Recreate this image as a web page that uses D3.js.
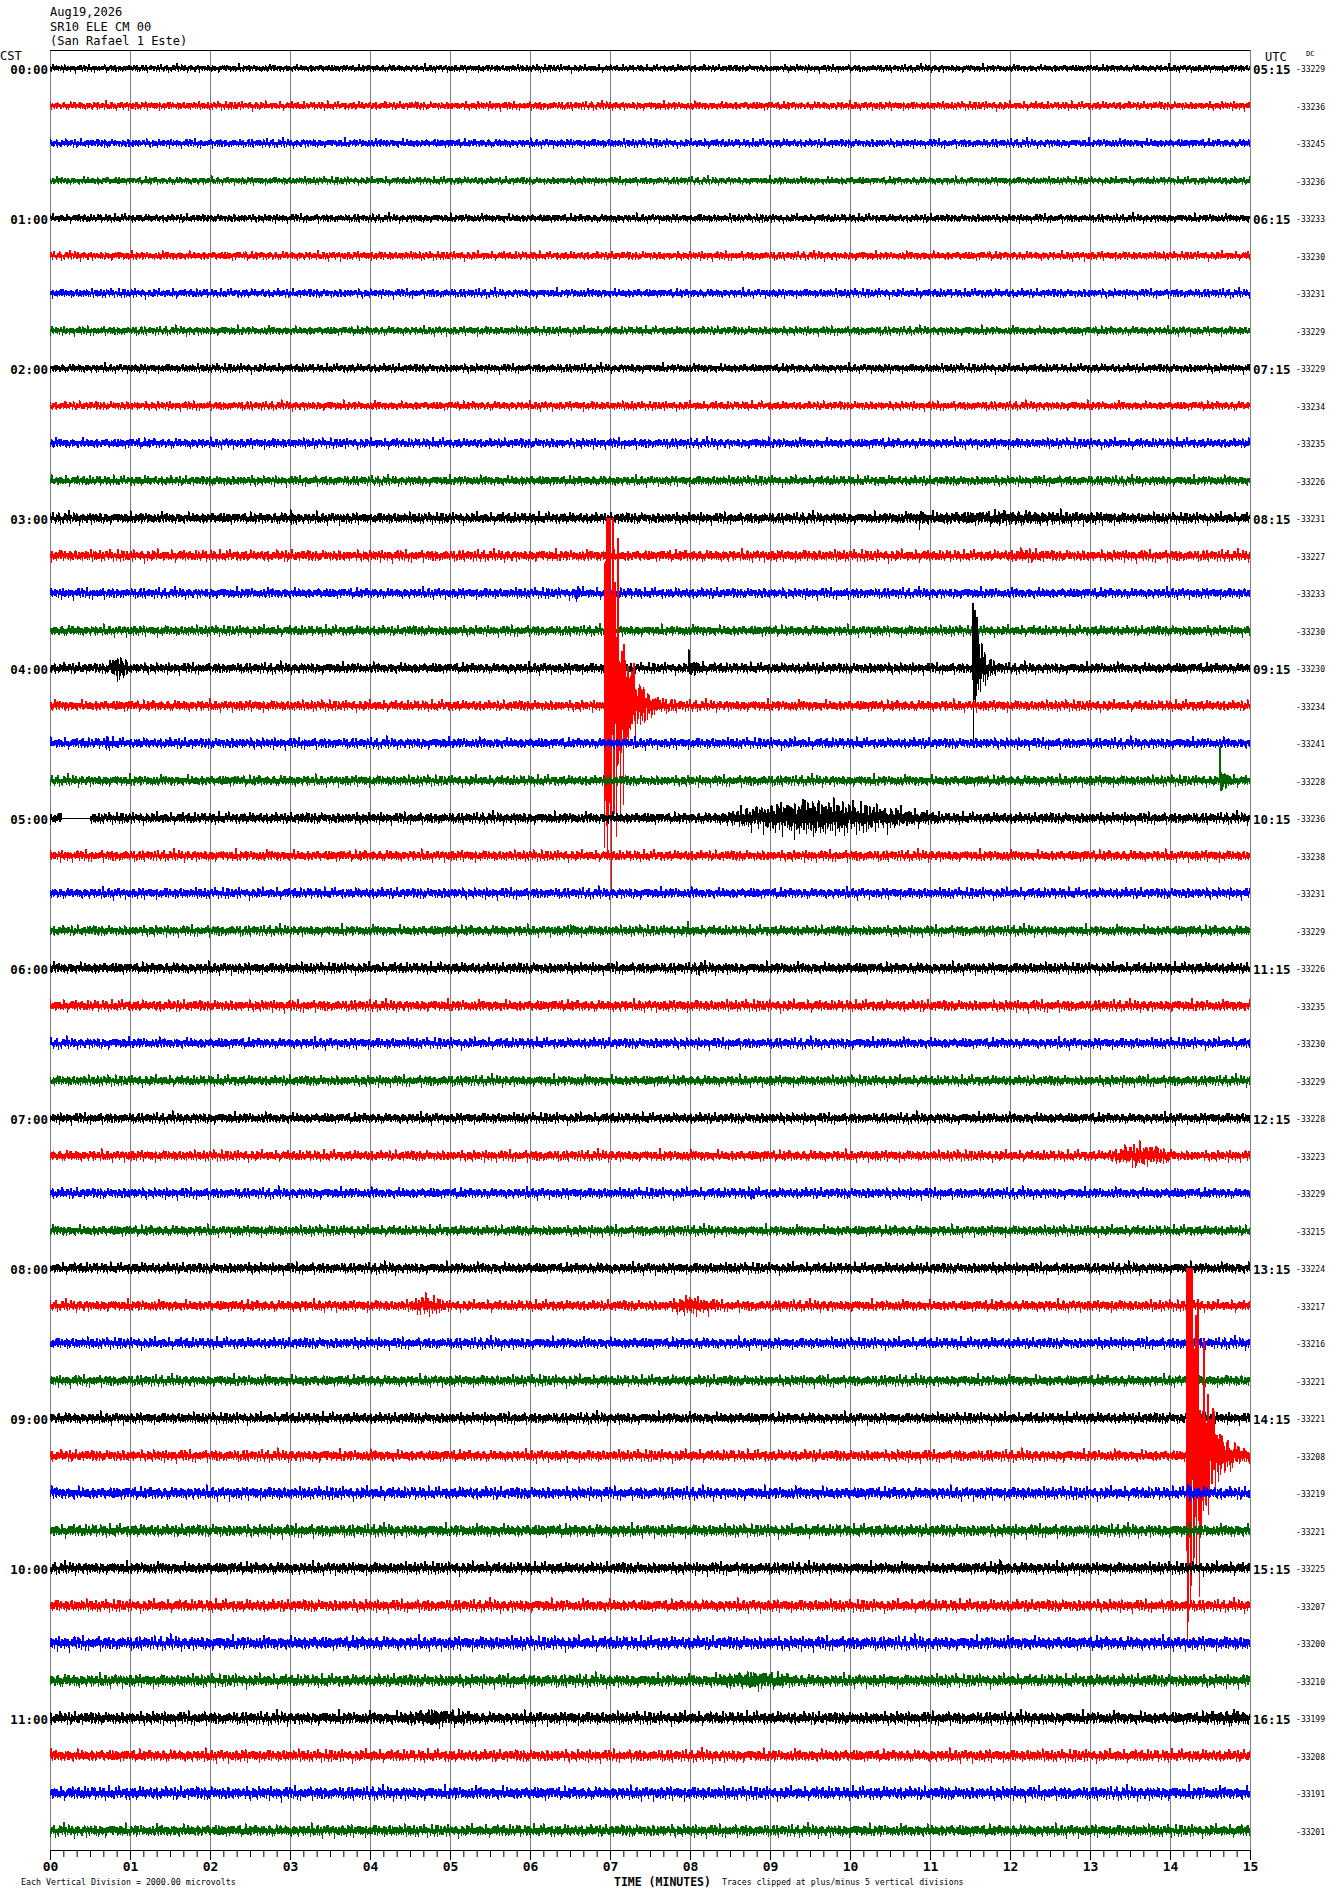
<!DOCTYPE html>
<html>
<head>
<meta charset="utf-8">
<script src="https://cdn.jsdelivr.net/npm/d3@7"></script>
<style>
body { margin: 0; background: #fff; }
svg { display: block; }
text { font-family: "DejaVu Sans Mono", "Liberation Mono", monospace; fill: #000; }
</style>
</head>
<body>
<div id="heli"></div>
<script>
// ---- labels ----
var titleLines = ["Aug19,2026", "SR10 ELE CM 00", "(San Rafael 1 Este)"];
var cstLabels = ["00:00", "01:00", "02:00", "03:00", "04:00", "05:00",
                 "06:00", "07:00", "08:00", "09:00", "10:00", "11:00"];
var utcLabels = ["05:15", "06:15", "07:15", "08:15", "09:15", "10:15",
                 "11:15", "12:15", "13:15", "14:15", "15:15", "16:15"];
var dcValues = [-33229, -33236, -33245, -33236, -33233, -33230, -33231, -33229,
                -33229, -33234, -33235, -33226, -33231, -33227, -33233, -33230,
                -33230, -33234, -33241, -33228, -33236, -33238, -33231, -33229,
                -33226, -33235, -33230, -33229, -33228, -33223, -33229, -33215,
                -33224, -33217, -33216, -33221, -33221, -33208, -33219, -33221,
                -33225, -33207, -33200, -33210, -33199, -33208, -33191, -33201];
var traceColors = ["#000000", "#ff0000", "#0000ff", "#006400"];
var minuteTicks = d3.range(0, 16);
var secondTicks = d3.range(0, 91).map(d => d / 6);

// background noise level of every 15 minute line, microvolts (peak)
var noiseLevel = [280, 320, 330, 300, 320, 330, 340, 340,
                  340, 340, 380, 380, 430, 430, 400, 400,
                  410, 410, 410, 410, 430, 410, 410, 410,
                  430, 430, 410, 410, 410, 410, 410, 410,
                  420, 420, 430, 430, 430, 440, 480, 480,
                  460, 460, 520, 490, 490, 460, 500, 460];

// impulsive events: line, onset (min), peak amplitude (uV), decay (min)
var quakeRow   = [16,    16,    17,    12,   12,    14,   18,   19,    23,   23,   24,   30,   37,    38,   40];
var quakeStart = [7.98,  11.53, 6.93,  3.0,  10.86, 6.56, 0.7,  14.62, 6.5,  7.95, 8.1,  8.75, 14.2,  14.22, 11.85];
var quakePeak  = [800,   9000,  30000, 500,  600,   700,  450,  1700,  500,  380,  380,  600,  30000, 700,   500];
var quakeTau   = [0.07,  0.07,  0.15,  0.03, 0.04,  0.03, 0.03, 0.05,  0.03, 0.03, 0.03, 0.03, 0.15,  0.03,  0.03];

// emergent bursts: line, start, peak, end (min), extra amplitude (uV)
var burstRow   = [16,   20,   12,   13,   29,   33,   33,   43,   44,   44];
var burstStart = [0.72, 8.3,  10.5, 11.9, 13.2, 4.5,  7.7,  8.2,  4.3,  14.4];
var burstPeak  = [0.85, 9.5,  12.0, 12.2, 13.6, 4.7,  8.0,  8.8,  4.8,  14.8];
var burstEnd   = [1.0,  11.2, 13.6, 12.5, 14.1, 4.95, 8.4,  9.4,  5.4,  15.0];
var burstAmp   = [800,  1100, 180,  160,  600,  450,  380,  300,  280,  200];

// data gap (flat line)
var gapRow = [20], gapStart = [0.15], gapEnd = [0.5];

// hand typed wiggle shapes, tiled along every line as the noise texture
var shapeA = [0.42,-0.31,0.15,-0.53,0.27,-0.12,0.95,-0.38,0.24,-0.61,
              0.36,-0.05,0.22,-0.47,0.18,-0.34,0.77,-0.27,0.41,-0.16,
              0.09,-0.58,0.34,-0.19,0.47,-0.23,0.31,-0.85,0.13,-0.28,
              0.58,-0.22,0.2,-0.41,0.26,-0.12,0.68,-0.08,0.39,-0.29,
              0.2,-0.49,0.15,-0.3,0.63,-0.18,0.32,-0.15,0.5,-0.26,
              0.34,-0.94,0.24,-0.13,0.11,-0.36,0.21,-0.43,0.28,-0.16,
              0.7,-0.33];
var shapeB = [0.3,-0.55,0.12,-0.8,0.24,-0.21,0.45,-0.07,0.69,-0.18,
              0.33,-0.38,0.5,-0.12,0.94,-0.26,0.14,-0.57,0.41,-0.05,
              0.26,-0.39,0.23,-0.13,0.6,-0.1,0.36,-0.67,0.18,-0.2,
              0.86,-0.32,0.02,-0.35,0.21,-0.77,0.17,-0.43,0.23,-0.08,
              0.29,-0.6,0.9,-0.24,0.15,-0.45,0.11,-0.28];

var width = 1330, height = 1894;
var margin = {top: 50, left: 50, right: 80, bottom: 44};
var nLines = dcValues.length;
var nSamples = 2400;
var clipUV = 5 * 2000;   // clipped at +/- 5 divisions

var x = d3.scaleLinear().domain([0, 15]).range([margin.left, width - margin.right]);
var lineY = d3.scaleLinear().domain([0, nLines - 1]).range([68.5, 1831]);
var ampY = d3.scaleLinear().domain([-2000, 2000]).range([37.5, -37.5]);

var svg = d3.select("#heli").append("svg")
    .attr("width", width)
    .attr("height", height);

function envelope(row, t) {
    for (var g = 0; g < gapRow.length; g++) {
        if (gapRow[g] == row && t >= gapStart[g] && t <= gapEnd[g]) return 0;
    }
    var e = noiseLevel[row];
    for (var k = 0; k < burstRow.length; k++) {
        if (burstRow[k] != row || t < burstStart[k] || t > burstEnd[k]) continue;
        if (t < burstPeak[k]) e += burstAmp[k] * (t - burstStart[k]) / (burstPeak[k] - burstStart[k]);
        else e += burstAmp[k] * (burstEnd[k] - t) / Math.max(burstEnd[k] - burstPeak[k], 1e-6);
    }
    for (var q = 0; q < quakeRow.length; q++) {
        if (quakeRow[q] != row || t < quakeStart[q]) continue;
        var dt = t - quakeStart[q];
        if (dt > 8 * quakeTau[q]) continue;
        e += quakePeak[q] * Math.min(1, dt / 0.005) * Math.exp(-dt / quakeTau[q]);
    }
    return e;
}

function wiggle(i, row) {
    var a = shapeA[(i + row * 18) % shapeA.length];
    var b = shapeB[(i + row * 14) % shapeB.length];
    return 0.6 * a + 0.5 * b;
}

function traceData(row) {
    var pts = [];
    for (var i = 0; i <= nSamples; i++) {
        var t = 15 * i / nSamples;
        var v = wiggle(i, row) * envelope(row, t);
        pts.push({t: t, v: Math.max(-clipUV, Math.min(clipUV, v))});
    }
    return pts;
}

// minute grid
svg.append("g")
    .attr("id", "grid")
    .selectAll("line")
    .data(minuteTicks)
    .enter()
    .append("line")
    .attr("x1", d => x(d) + 0.5)
    .attr("x2", d => x(d) + 0.5)
    .attr("y1", margin.top)
    .attr("y2", height - margin.bottom)
    .style("stroke", "#808080")
    .style("stroke-width", 1);

// traces
svg.append("g")
    .attr("id", "traces")
    .selectAll("path")
    .data(d3.range(nLines))
    .enter()
    .append("path")
    .attr("d", row => {
        var line = d3.line()
            .x(d => x(d.t))
            .y(d => lineY(row) + ampY(d.v));
        return line(traceData(row));
    })
    .style("fill", "none")
    .style("stroke", row => traceColors[row % 4])
    .style("stroke-width", 1)
    .style("shape-rendering", "crispEdges");

// top frame line
svg.append("line")
    .attr("x1", x(0)).attr("x2", x(15))
    .attr("y1", margin.top + 0.5).attr("y2", margin.top + 0.5)
    .style("stroke", "#000");

// bottom time axis
var axisY = height - margin.bottom;
svg.append("g")
    .attr("transform", `translate(0, ${axisY})`)
    .call(d3.axisBottom(x).tickValues(secondTicks).tickSize(7).tickFormat(""))
    .call(g => g.selectAll("line").style("stroke", "#000"))
    .call(g => g.select(".domain").style("stroke", "#000").attr("d", `M${x(0)},0.5H${x(15)}`));

svg.append("g")
    .attr("transform", `translate(0, ${axisY})`)
    .call(d3.axisBottom(x).tickValues(minuteTicks).tickSize(10).tickPadding(2).tickFormat(d3.format("02d")))
    .call(g => g.select(".domain").remove())
    .call(g => g.selectAll("line").style("stroke", "#000"))
    .call(g => g.selectAll("text")
        .style("font-family", '"DejaVu Sans Mono", monospace')
        .style("font-size", "13px")
        .style("font-weight", "bold")
        .style("fill", "#000"));

// header
svg.append("g")
    .selectAll("text")
    .data(titleLines)
    .enter()
    .append("text")
    .attr("x", 50)
    .attr("y", (d, i) => 16 + i * 14.5)
    .style("font-size", "12px")
    .text(d => d);

svg.append("text").attr("x", 0).attr("y", 60).style("font-size", "12px").text("CST");
svg.append("text").attr("x", 1265).attr("y", 61).style("font-size", "12px").text("UTC");
svg.append("text").attr("x", 1306).attr("y", 56).style("font-size", "7px").text("DC");

// hour labels, left CST and right UTC
svg.append("g")
    .selectAll("text")
    .data(cstLabels)
    .enter()
    .append("text")
    .attr("x", 48)
    .attr("y", (d, i) => lineY(i * 4) + 5.5)
    .attr("text-anchor", "end")
    .style("font-size", "12.5px")
    .style("font-weight", "bold")
    .text(d => d);

svg.append("g")
    .selectAll("text")
    .data(utcLabels)
    .enter()
    .append("text")
    .attr("x", 1253)
    .attr("y", (d, i) => lineY(i * 4) + 5.5)
    .style("font-size", "12.5px")
    .style("font-weight", "bold")
    .text(d => d);

// DC offsets
svg.append("g")
    .selectAll("text")
    .data(dcValues)
    .enter()
    .append("text")
    .attr("x", 1325)
    .attr("y", (d, i) => lineY(i) + 3.5)
    .attr("text-anchor", "end")
    .style("font-size", "8px")
    .text(d => "-" + Math.abs(d));

// footer
svg.append("text").attr("x", 21).attr("y", 1885).style("font-size", "8.3px")
    .text("Each Vertical Division = 2000.00 microvolts");
svg.append("text").attr("x", 614).attr("y", 1886).style("font-size", "11.5px").style("font-weight", "bold")
    .text("TIME (MINUTES)");
svg.append("text").attr("x", 722).attr("y", 1885).style("font-size", "8.2px")
    .text("Traces clipped at plus/minus 5 vertical divisions");
</script>
</body>
</html>
